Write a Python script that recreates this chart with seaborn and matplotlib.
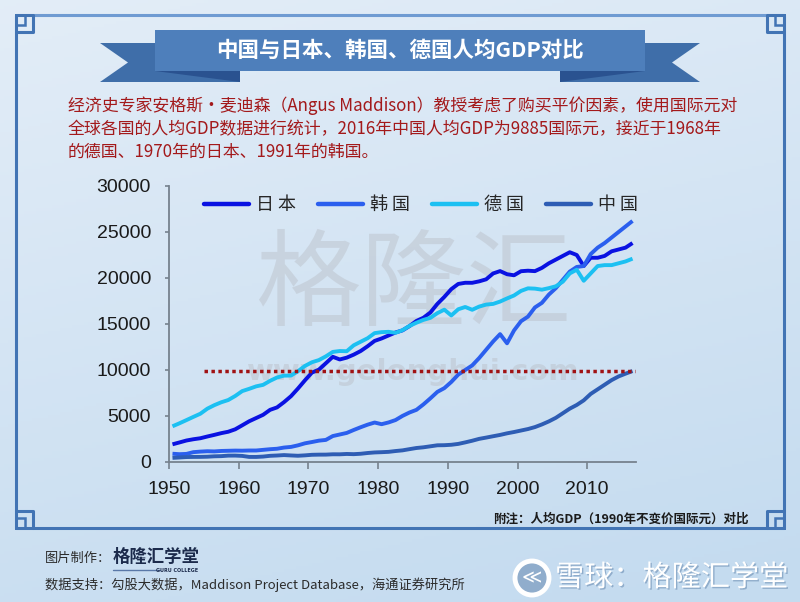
import numpy as np
import pandas as pd
import seaborn as sns
import matplotlib.pyplot as plt
from matplotlib.patches import Polygon, Rectangle, Circle
import matplotlib.patheffects as pe

# 人均GDP, 1990 GK$
years = list(range(1950, 2017))
japan = [1921, 2126, 2336, 2474, 2582, 2771, 2948, 3136, 3289, 3554,
         3986, 4426, 4777, 5129, 5668, 5934, 6506, 7152, 7983, 8874,
         9714, 10040, 10734, 11434, 11145, 11344, 11669, 12064, 12585, 13163,
         13428, 13754, 14078, 14307, 14773, 15331, 15679, 16251, 17185, 17943,
         18789, 19355, 19482, 19478, 19636, 19857, 20494, 20751, 20410, 20296,
         20738, 20793, 20746, 21100, 21600, 22000, 22400, 22800, 22500, 21300,
         22200, 22200, 22400, 22900, 23100, 23300, 23800]
korea = [900, 850, 880, 1070, 1130, 1170, 1150, 1200, 1220, 1240,
         1230, 1250, 1250, 1320, 1390, 1440, 1570, 1640, 1810, 2030,
         2170, 2320, 2400, 2820, 2990, 3160, 3480, 3780, 4060, 4290,
         4110, 4300, 4560, 5010, 5380, 5670, 6260, 6920, 7620, 8030,
         8700, 9500, 10000, 10500, 11300, 12200, 13100, 13900, 12900, 14300,
         15300, 15800, 16800, 17300, 18200, 18900, 19800, 20700, 21200, 21300,
         22600, 23300, 23800, 24400, 25000, 25600, 26200]
germany = [3881, 4206, 4553, 4905, 5247, 5797, 6177, 6492, 6737, 7176,
           7705, 7952, 8222, 8386, 8822, 9186, 9388, 9397, 9864, 10440,
           10839, 11077, 11481, 11966, 12063, 12041, 12684, 13072, 13455, 14009,
           14114, 14149, 14040, 14329, 14785, 15140, 15447, 15668, 16181, 16558,
           15929, 16604, 16850, 16545, 16893, 17110, 17184, 17438, 17780, 18100,
           18596, 18876, 18844, 18731, 18900, 19100, 19600, 20500, 20900, 19700,
           20500, 21300, 21400, 21400, 21600, 21800, 22100]
china = [448, 491, 538, 552, 556, 575, 619, 637, 693, 697,
         662, 553, 550, 590, 672, 706, 753, 712, 678, 722,
         783, 799, 802, 839, 836, 874, 852, 895, 978, 1039,
         1067, 1103, 1192, 1265, 1396, 1522, 1597, 1706, 1816, 1827,
         1871, 1967, 2132, 2312, 2515, 2653, 2800, 2943, 3117, 3259,
         3421, 3583, 3795, 4083, 4415, 4803, 5300, 5800, 6200, 6700,
         7400, 7900, 8400, 8900, 9300, 9600, 9885]
countries = ['日本', '韩国', '德国', '中国']
colors = ['#0a12e2', '#2b5fee', '#1cc0f2', '#2e5db4']
ref_value = 9885          # 2016年中国
ref_start, ref_end = 1955, 2016
y_ticks = [0, 5000, 10000, 15000, 20000, 25000, 30000]
x_ticks = [1950, 1960, 1970, 1980, 1990, 2000, 2010]

title = '中国与日本、韩国、德国人均GDP对比'
intro = ['经济史专家安格斯·麦迪森（Angus Maddison）教授考虑了购买平价因素，使用国际元对',
         '全球各国的人均GDP数据进行统计，2016年中国人均GDP为9885国际元，接近于1968年',
         '的德国、1970年的日本、1991年的韩国。']
note = '附注：人均GDP（1990年不变价国际元）对比'
source = '数据支持：勾股大数据，Maddison Project Database，海通证券研究所'

df = pd.DataFrame({'year': years * 4,
                   'gdp': japan + korea + germany + china,
                   'country': np.repeat(countries, len(years))})
df['pos'] = df['year'] + 0.5   # points sit in the middle of each year slot

sns.set_theme(style='ticks')
plt.rcParams['font.family'] = ['Noto Sans CJK SC', 'DejaVu Sans']

fig = plt.figure(figsize=(8, 6.02), dpi=100)

# background + decorations, pixel coords
bg = fig.add_axes([0, 0, 1, 1])
bg.set_xlim(0, 800)
bg.set_ylim(602, 0)
bg.axis('off')
gy = np.linspace(0, 1, 200)[:, None]
gx = np.linspace(0, 1, 200)[None, :]
top = np.array([0.89, 0.93, 0.97])
bot = np.array([0.77, 0.86, 0.94])
mix = np.clip(gy * 0.8 + gx * 0.25, 0, 1)[..., None]
grad = top * (1 - mix) + bot * mix
bg.imshow(grad, extent=(0, 800, 602, 0), aspect='auto', zorder=0)

fc = '#4274b4'
bg.plot([33, 767], [15, 15], color='#6f9bd2', lw=2.2, zorder=1)
bg.plot([33, 767], [528, 528], color=fc, lw=2.2, zorder=1)
bg.plot([16, 16], [32, 511], color=fc, lw=2.2, zorder=1)
bg.plot([784, 784], [32, 511], color=fc, lw=2.2, zorder=1)
for cx, cy, sx, sy in [(16, 15, 1, 1), (784, 15, -1, 1), (16, 528, 1, -1), (784, 528, -1, -1)]:
    bg.plot([cx, cx + 17 * sx, cx + 17 * sx, cx, cx],
            [cy, cy, cy + 17 * sy, cy + 17 * sy, cy], color=fc, lw=2.2, zorder=1)
    bg.add_patch(Rectangle((min(cx, cx + 9 * sx), min(cy, cy + 10 * sy)), 9, 10,
                           fill=False, ec=fc, lw=1.8, zorder=1))

# title ribbon
bg.add_patch(Polygon([(100, 43), (240, 43), (240, 82), (100, 82), (128, 62.5)],
                     closed=True, fc='#3f6ea9', ec='none', zorder=2))
bg.add_patch(Polygon([(700, 43), (560, 43), (560, 82), (700, 82), (672, 62.5)],
                     closed=True, fc='#3f6ea9', ec='none', zorder=2))
bg.add_patch(Polygon([(155, 71), (240, 71), (240, 82)], closed=True,
                     fc='#2a5290', ec='none', zorder=2))
bg.add_patch(Polygon([(645, 71), (560, 71), (560, 82)], closed=True,
                     fc='#2a5290', ec='none', zorder=2))
bg.add_patch(Rectangle((155, 30), 490, 41, fc='#4e7fbb', ec='none', zorder=3))
bg.text(400, 50.5, title, color='white', fontsize=15.5, fontweight='bold',
        ha='center', va='center', zorder=4)

for i, line in enumerate(intro):
    bg.text(68, 106 + i * 23, line, color='#a3191b', fontsize=12.2,
            ha='left', va='center', zorder=4)

# watermark
bg.text(413, 288, '格隆汇', color='#b9bec6', alpha=0.45, fontsize=76,
        ha='center', va='center', zorder=1)
bg.text(413, 372, 'www.gelonghui.com', color='#b9bec6', alpha=0.45, fontsize=21,
        fontweight='bold', family='DejaVu Sans', ha='center', va='center', zorder=1)

bg.text(749, 519, note, color='#1b1b1b', fontsize=9, fontweight='bold',
        ha='right', va='center', zorder=4)
bg.text(45, 558, '图片制作：', color='#2b2b2b', fontsize=9.5, ha='left', va='center')
bg.text(113, 557, '格隆汇学堂', color='#1c2b4c', fontsize=12.5, fontweight='bold',
        ha='left', va='center')
bg.plot([113, 160], [570, 570], color='#5a78a8', lw=1)
bg.text(198, 570, 'GURU COLLEGE', color='#1c2b4c', fontsize=3.5, family='DejaVu Sans',
        fontweight='bold', ha='right', va='center')
bg.text(45, 585, source, color='#2b2b2b', fontsize=9.5, ha='left', va='center')

shadow = [pe.withSimplePatchShadow(offset=(1, -1), shadow_rgbFace='#6d8fb4', alpha=0.6)]
bg.add_patch(Circle((532, 578), 17, fill=False, ec='white', lw=3.5, zorder=4,
                    path_effects=shadow))
bg.text(532, 578, '≪', color='white', fontsize=14, family='DejaVu Sans',
        ha='center', va='center', zorder=4)
bg.text(555, 578, '雪球：格隆汇学堂', color='white', fontsize=21, ha='left',
        va='center', zorder=4, path_effects=shadow)

# chart
ax = fig.add_axes([169 / 800, 1 - 462 / 602, 467 / 800, 276 / 602])
ax.patch.set_alpha(0)
sns.lineplot(data=df, x='pos', y='gdp', hue='country', hue_order=countries,
             palette=colors, linewidth=2.8, ax=ax, legend=False)
for line in ax.lines:
    line.set_solid_capstyle('butt')
ax.hlines(ref_value, ref_start, ref_end + 0.8, color='#a01214', lw=2.5,
          linestyles=(0, (1, 1)))

ax.set_xlim(1950, 2017)
ax.set_ylim(0, 30000)
ax.set_xticks(x_ticks)
ax.set_yticks(y_ticks)
ax.set_xlabel('')
ax.set_ylabel('')
for s in ['top', 'right']:
    ax.spines[s].set_visible(False)
for s in ['left', 'bottom']:
    ax.spines[s].set_color('#76828e')
    ax.spines[s].set_linewidth(1.3)
ax.tick_params(axis='x', length=5, width=1.2, color='#76828e', pad=9)
ax.tick_params(axis='y', length=3, width=1.2, color='#76828e', pad=10)
for lab in ax.get_xticklabels() + ax.get_yticklabels():
    lab.set_fontfamily('Liberation Sans')
    lab.set_fontsize(14)
    lab.set_color('#1a1a1a')

handles = [plt.Line2D([], [], color=c, lw=3.2) for c in colors]
labels = [' '.join(c) for c in countries]
fig.legend(handles, labels, loc='center', bbox_to_anchor=(421 / 800, 1 - 205 / 602),
           ncol=4, frameon=False, fontsize=13, handlelength=2.5, handletextpad=0.4,
           columnspacing=1.2)

fig.savefig('out.png', dpi=100)
